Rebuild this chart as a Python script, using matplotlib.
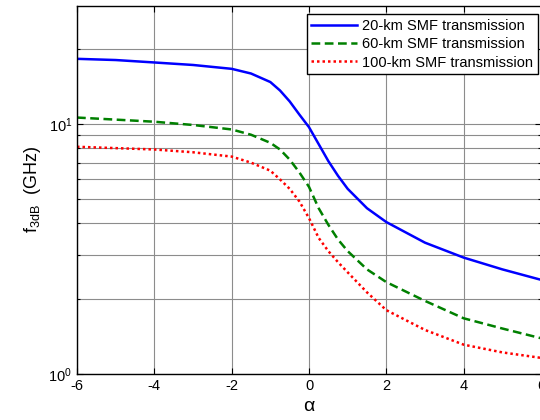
import math
import matplotlib
matplotlib.use('Agg')
import matplotlib.pyplot as plt
from matplotlib.ticker import FixedLocator, FuncFormatter, LogLocator, NullFormatter

plt.rcParams['font.family'] = ['Liberation Sans', 'DejaVu Sans']
plt.rcParams['mathtext.fontset'] = 'custom'
plt.rcParams['mathtext.rm'] = 'Liberation Sans'
plt.rcParams['mathtext.it'] = 'Liberation Sans'
plt.rcParams['axes.unicode_minus'] = False

alpha = [-6, -5, -4, -3, -2, -1.5, -1, -0.75, -0.5, -0.25, 0, 0.25, 0.5, 0.75, 1, 1.5, 2, 3, 4, 5, 6]
f_20km = [18.2, 18.0, 17.6, 17.2, 16.6, 15.9, 14.7, 13.6, 12.3, 10.9, 9.7, 8.3, 7.1, 6.2, 5.5, 4.6, 4.05,
          3.35, 2.92, 2.62, 2.38]
f_60km = [10.6, 10.4, 10.2, 9.9, 9.5, 9.05, 8.4, 7.9, 7.2, 6.4, 5.6, 4.6, 3.95, 3.45, 3.1, 2.62, 2.33,
          1.96, 1.67, 1.52, 1.39]
f_100km = [8.1, 8.0, 7.9, 7.7, 7.4, 7.0, 6.5, 6.0, 5.5, 4.9, 4.2, 3.5, 3.1, 2.8, 2.55, 2.12, 1.80,
           1.50, 1.31, 1.22, 1.16]
labels = ['20-km SMF transmission', '60-km SMF transmission', '100-km SMF transmission']

fig = plt.figure(figsize=(5.4, 4.2), dpi=100)
ax = fig.add_axes([77 / 540, 46 / 420, 464 / 540, 368 / 420])

ax.plot(alpha, f_20km, color='#0000ff', lw=1.8, ls='-', label=labels[0])
ax.plot(alpha, f_60km, color='#008000', lw=1.8, ls=(0, (3.5, 1.8)), label=labels[1])
ax.plot(alpha, f_100km, color='#ff0000', lw=1.8, ls=(0, (1, 1.2)), label=labels[2])

ax.set_yscale('log')
ax.set_xlim(-6, 6)
ax.set_ylim(1, 29.6)
ax.xaxis.set_major_locator(FixedLocator([-6, -4, -2, 0, 2, 4, 6]))
ax.yaxis.set_major_locator(FixedLocator([1, 10]))
ax.yaxis.set_minor_locator(LogLocator(base=10, subs=range(2, 10)))
ax.yaxis.set_minor_formatter(NullFormatter())
ax.yaxis.set_major_formatter(FuncFormatter(lambda v, p: '$10^{%d}$' % round(math.log10(v))))

ax.grid(True, which='major', color='#8c8c8c', lw=0.8)
ax.grid(True, which='minor', axis='y', color='#8c8c8c', lw=0.8)
ax.tick_params(which='both', direction='in', top=True, right=True, labelsize=10.5, width=0.8)
ax.tick_params(which='major', length=4)
ax.tick_params(which='minor', length=2.5)
for s in ax.spines.values():
    s.set_linewidth(1.0)
    s.set_color('black')

ax.set_xlabel(r'$\alpha$', fontsize=14, labelpad=4)
ax.set_ylabel(r'f$_{\mathrm{3dB}}$  (GHz)', fontsize=13, labelpad=4)

leg = ax.legend(loc='upper right', bbox_to_anchor=(0.993, 0.977), fontsize=10.5, fancybox=False,
                framealpha=1, edgecolor='black', borderpad=0.3, labelspacing=0.3,
                handlelength=3.1, handletextpad=0.4, borderaxespad=0)
leg.get_frame().set_linewidth(1.0)

fig.savefig('out.png', dpi=100)
